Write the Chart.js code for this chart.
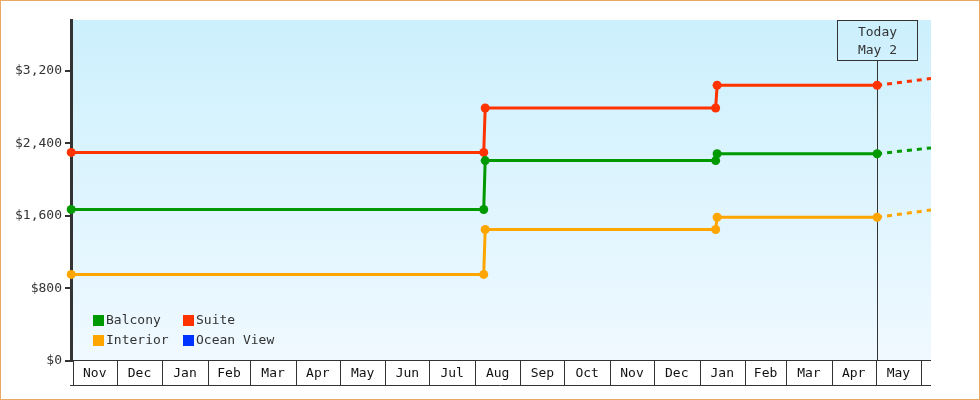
<!DOCTYPE html>
<html><head><meta charset="utf-8">
<script src="https://cdn.jsdelivr.net/npm/chart.js@4/dist/chart.umd.min.js"></script>
<style>html,body{margin:0;padding:0;background:#fff;}#wrap{width:980px;height:400px;}</style>
</head><body><div id="wrap"><canvas id="c" width="980" height="400"></canvas></div>
<script>
// ---- data ----
const seriesNames = ['Balcony', 'Suite', 'Interior', 'Ocean View'];
const seriesColors = ['#009900', '#ff3300', '#ffa500', '#0033ff'];
// days counted from Nov 1, 2023
const priceDays = [-1, 280, 281, 438, 439, 548];
const balcony  = [1670, 1670, 2210, 2210, 2285, 2285];
const suite    = [2300, 2300, 2790, 2790, 3040, 3040];
const interior = [955, 955, 1450, 1450, 1585, 1585];
const oceanView = [];
const projDays = [548, 584.7];
const balconyProj  = [2285, 2350];
const suiteProj    = [3040, 3115];
const interiorProj = [1585, 1665];
const monthLabels = ['Nov','Dec','Jan','Feb','Mar','Apr','May','Jun','Jul','Aug','Sep','Oct','Nov','Dec','Jan','Feb','Mar','Apr','May'];
const monthStarts = [0,30,61,92,121,152,182,213,243,274,305,335,366,396,427,458,486,517,547,578];
const yTicks = [0, 800, 1600, 2400, 3200];
const todayDay = 548;
const todayLabel = ['Today', 'May 2'];

const FONT = "13px 'DejaVu Sans Mono', monospace";
Chart.defaults.font.family = "'DejaVu Sans Mono', monospace";
Chart.defaults.font.size = 13;

function pts(xs, ys) { return ys.map((v, i) => ({x: xs[i], y: v})); }

const mainSeries = [
  {name: seriesNames[0], color: seriesColors[0], data: balcony, proj: balconyProj},
  {name: seriesNames[1], color: seriesColors[1], data: suite, proj: suiteProj},
  {name: seriesNames[2], color: seriesColors[2], data: interior, proj: interiorProj},
  {name: seriesNames[3], color: seriesColors[3], data: oceanView, proj: []}
];
const datasets = [];
mainSeries.forEach(s => {
  datasets.push({
    label: s.name, data: pts(priceDays, s.data),
    borderColor: s.color, backgroundColor: s.color, borderWidth: 3,
    pointRadius: 4.5, pointBorderWidth: 0, pointBackgroundColor: s.color,
    tension: 0, clip: false, fill: false
  });
  datasets.push({
    label: s.name + ' projection', data: pts(projDays, s.proj),
    borderColor: s.color, borderWidth: 3, borderDash: [5, 5],
    pointRadius: 0, tension: 0, fill: false
  });
});

const decor = {
  id: 'decor',
  beforeDraw(chart) {
    const ctx = chart.ctx, a = chart.chartArea;
    ctx.save();
    ctx.fillStyle = '#ffffff';
    ctx.fillRect(0, 0, chart.width, chart.height);
    const g = ctx.createLinearGradient(0, a.top, 0, a.bottom);
    g.addColorStop(0, '#ccf0fd');
    g.addColorStop(1, '#f0f9ff');
    ctx.fillStyle = g;
    ctx.fillRect(a.left, a.top, a.right - a.left, a.bottom - a.top);
    ctx.restore();
  },
  beforeDatasetsDraw(chart) {
    const ctx = chart.ctx, a = chart.chartArea, xs = chart.scales.x;
    const tx = Math.round(xs.getPixelForValue(todayDay)) + 0.5;
    ctx.save();
    ctx.strokeStyle = '#333';
    ctx.lineWidth = 1;
    ctx.beginPath();
    ctx.moveTo(tx, a.top + 40);
    ctx.lineTo(tx, a.bottom);
    ctx.stroke();
    ctx.strokeRect(tx - 40, a.top + 0.5, 80, 40);
    ctx.fillStyle = '#333';
    ctx.font = FONT;
    ctx.textAlign = 'center';
    ctx.textBaseline = 'middle';
    ctx.fillText(todayLabel[0], tx, a.top + 13);
    ctx.fillText(todayLabel[1], tx, a.top + 31);
    ctx.restore();
  },
  afterDraw(chart) {
    const ctx = chart.ctx, a = chart.chartArea, xs = chart.scales.x;
    ctx.save();
    // x-axis month boxes
    const top = a.bottom - 0.5, bot = a.bottom + 24.5;
    ctx.strokeStyle = '#333';
    ctx.lineWidth = 1;
    ctx.beginPath();
    ctx.moveTo(a.left, top); ctx.lineTo(a.right, top);
    ctx.moveTo(a.left - 1, bot); ctx.lineTo(a.right, bot);
    monthStarts.forEach(d => {
      const px = Math.round(xs.getPixelForValue(d)) + 0.5;
      ctx.moveTo(px, top); ctx.lineTo(px, bot);
    });
    ctx.stroke();
    ctx.fillStyle = '#111';
    ctx.font = FONT;
    ctx.textAlign = 'center';
    ctx.textBaseline = 'middle';
    monthLabels.forEach((m, i) => {
      const px = (xs.getPixelForValue(monthStarts[i]) + xs.getPixelForValue(monthStarts[i + 1])) / 2;
      ctx.fillText(m, px, a.bottom + 13);
    });
    // legend
    const lx = [93, 183], ly = [315, 335];
    ctx.textAlign = 'left';
    seriesNames.forEach((n, i) => {
      const col = i % 2, row = Math.floor(i / 2);
      ctx.fillStyle = seriesColors[i];
      ctx.fillRect(lx[col], ly[row], 11, 11);
      ctx.fillStyle = '#333';
      ctx.fillText(n, lx[col] + 13, ly[row] + 6);
    });
    // outer frame
    ctx.strokeStyle = '#e9a865';
    ctx.lineWidth = 1;
    ctx.strokeRect(0.5, 0.5, chart.width - 1, chart.height - 1);
    ctx.restore();
  }
};

new Chart(document.getElementById('c'), {
  type: 'line',
  data: {datasets},
  plugins: [decor],
  options: {
    responsive: false,
    animation: false,
    devicePixelRatio: 1,
    events: [],
    layout: {padding: {top: 20, right: 49, bottom: 39, left: 0}},
    plugins: {legend: {display: false}, tooltip: {enabled: false}},
    scales: {
      x: {type: 'linear', min: -1.16, max: 584.7, display: false},
      y: {
        type: 'linear', min: 0, max: 3760,
        afterFit(scale) { scale.width = 71; },
        afterBuildTicks(scale) { scale.ticks = yTicks.map(v => ({value: v})); },
        ticks: {
          color: '#333', padding: 3,
          font: {family: "'DejaVu Sans Mono', monospace", size: 13},
          callback: v => '$' + Number(v).toLocaleString('en-US')
        },
        grid: {drawOnChartArea: false, drawTicks: true, tickLength: 6, lineWidth: 2, color: '#333'},
        border: {display: true, color: '#333', width: 3}
      }
    }
  }
});
</script>
</body></html>
